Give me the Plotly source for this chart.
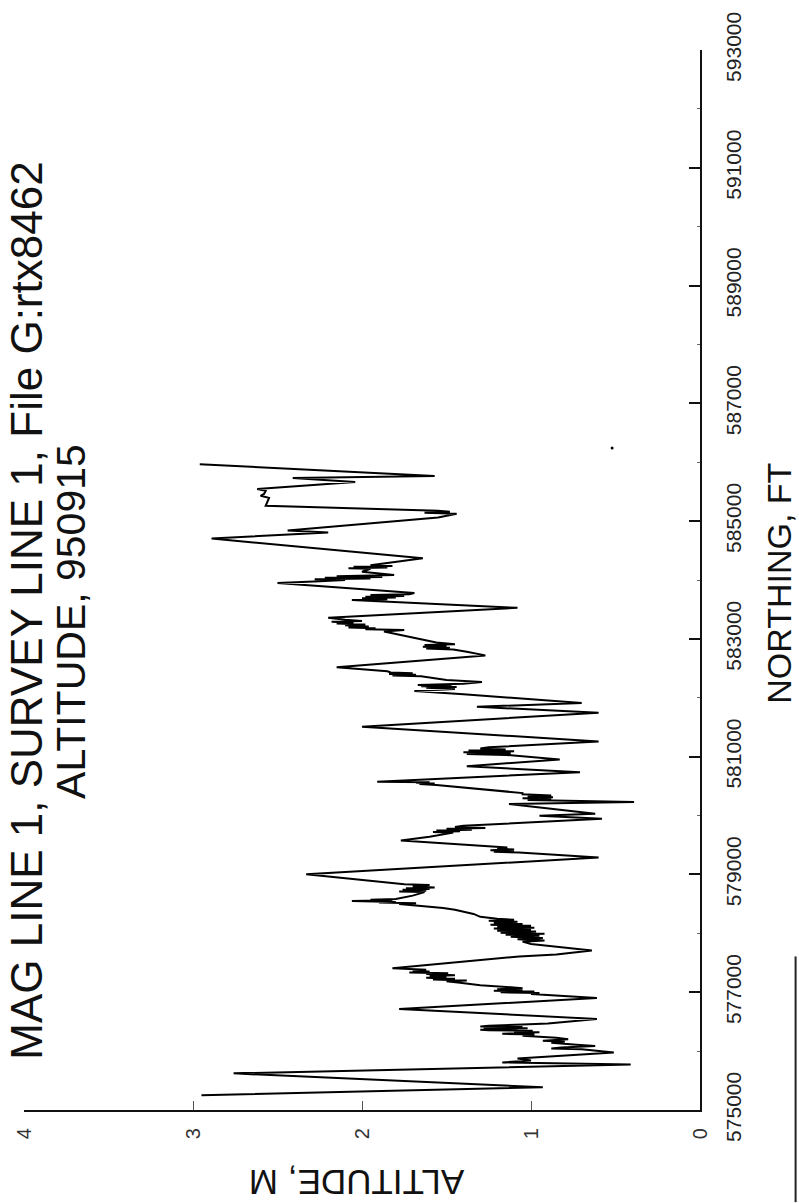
import plotly.graph_objects as go

# Survey profile: northing (ft) vs altitude (m), drawn on its side
northing_ft = [
    575252, 575387, 575622, 575774, 575807, 575840, 575875, 575976, 576030, 576045,
    576060, 576085, 576110, 576140, 576160, 576177, 576200, 576228, 576260, 576280,
    576295, 576320, 576335, 576346, 576355, 576362, 576370, 576380, 576390, 576400,
    576410, 576420, 576430, 576450, 576470, 576547, 576716, 576901, 576950, 576970,
    576985, 577000, 577012, 577025, 577035, 577050, 577069, 577120, 577160, 577187,
    577200, 577215, 577230, 577245, 577260, 577275, 577290, 577310, 577321, 577335,
    577350, 577365, 577380, 577405, 577607, 577641, 577708, 577780, 577820, 577859,
    577880, 577900, 577920, 577940, 577960, 577977, 577995, 578010, 578030, 578045,
    578061, 578080, 578095, 578110, 578129, 578145, 578160, 578175, 578196, 578215,
    578230, 578246, 578280, 578330, 578400, 578431, 578470, 578499, 578510, 578522,
    578532, 578549, 578560, 578572, 578583, 578640, 578700, 578712, 578725, 578740,
    578751, 578765, 578780, 578801, 578820, 578835, 579003, 579289, 579373, 579385,
    579398, 579410, 579424, 579440, 579457, 579575, 579640, 579710, 579722, 579735,
    579748, 579760, 579775, 579790, 579805, 579827, 579945, 579995, 580029, 580197,
    580231, 580250, 580265, 580281, 580295, 580310, 580325, 580340, 580360, 580382,
    580450, 580520, 580534, 580545, 580556, 580567, 580575, 580736, 580837, 580954,
    581030, 581045, 581060, 581075, 581090, 581106, 581120, 581139, 581160, 581257,
    581509, 581745, 581846, 581913, 582060, 582115, 582150, 582170, 582182, 582195,
    582205, 582216, 582240, 582266, 582300, 582367, 582380, 582392, 582405, 582418,
    582430, 582451, 582519, 582720, 582780, 582821, 582835, 582850, 582865, 582880,
    582895, 582910, 582939, 583050, 583124, 583150, 583165, 583180, 583195, 583210,
    583230, 583245, 583260, 583275, 583290, 583305, 583326, 583360, 583527, 583662,
    583675, 583690, 583703, 583716, 583730, 583746, 583760, 583780, 583948, 583980,
    584000, 584012, 584025, 584038, 584050, 584065, 584083, 584140, 584190, 584201,
    584213, 584225, 584238, 584251, 584369, 584705, 584806, 584840, 585060, 585126,
    585143, 585160, 585177, 585260, 585395, 585430, 585462, 585513, 585546, 585664,
    585731, 585765, 585967,
]
altitude_m = [
    2.95, 0.93, 2.76, 0.41, 1.17, 1.00, 1.08, 0.51, 0.70, 0.88,
    0.82, 0.62, 0.73, 0.88, 0.80, 0.93, 0.78, 0.85, 1.05, 0.98,
    1.17, 0.95, 1.10, 0.99, 1.25, 1.30, 1.08, 1.28, 1.02, 1.22,
    1.05, 1.30, 1.25, 1.05, 0.90, 0.61, 1.78, 0.61, 0.85, 1.00,
    0.95, 1.18, 0.98, 1.22, 1.05, 1.20, 1.05, 1.30, 1.42, 1.50,
    1.38, 1.58, 1.45, 1.62, 1.50, 1.60, 1.45, 1.62, 1.49, 1.72,
    1.60, 1.70, 1.62, 1.82, 1.07, 0.85, 0.64, 0.90, 1.00, 1.05,
    0.92, 1.08, 0.93, 1.12, 0.95, 1.15, 0.92, 1.18, 0.97, 1.20,
    1.00, 1.22, 0.98, 1.20, 1.00, 1.24, 1.05, 1.22, 1.08, 1.25,
    1.10, 1.20, 1.30, 1.34, 1.45, 1.52, 1.65, 1.78, 1.68, 1.90,
    1.80, 2.06, 1.82, 1.95, 1.80, 1.70, 1.63, 1.78, 1.62, 1.76,
    1.60, 1.74, 1.57, 1.70, 1.60, 1.75, 2.33, 0.60, 1.07, 1.22,
    1.10, 1.24, 1.10, 1.20, 1.14, 1.77, 1.60, 1.46, 1.58, 1.42,
    1.56, 1.35, 1.50, 1.27, 1.45, 1.40, 0.58, 0.95, 0.62, 1.13,
    0.39, 0.80, 1.02, 0.88, 1.05, 0.87, 1.02, 0.88, 1.05, 1.05,
    1.30, 1.56, 1.66, 1.57, 1.68, 1.60, 1.91, 0.71, 1.38, 0.83,
    1.15, 1.38, 1.12, 1.40, 1.10, 1.37, 1.15, 1.30, 1.25, 0.60,
    2.00, 0.60, 1.32, 0.70, 1.40, 1.69, 1.45, 1.62, 1.44, 1.65,
    1.47, 1.67, 1.40, 1.29, 1.50, 1.65, 1.82, 1.68, 1.84, 1.70,
    1.83, 1.85, 2.15, 1.27, 1.38, 1.46, 1.62, 1.48, 1.64, 1.50,
    1.63, 1.45, 1.56, 1.75, 1.87, 1.75, 1.98, 1.92, 2.08, 1.96,
    2.10, 1.98, 2.15, 2.05, 2.18, 2.00, 2.10, 2.20, 1.08, 2.06,
    1.85, 2.00, 1.80, 1.98, 1.75, 1.95, 1.72, 1.69, 2.50, 2.25,
    2.10, 2.28, 1.95, 2.22, 1.88, 2.15, 1.81, 2.00, 1.95, 2.08,
    1.85, 2.05, 1.82, 1.95, 1.64, 2.89, 2.20, 2.44, 1.55, 1.44,
    1.63, 1.48, 1.55, 2.57, 2.55, 2.60, 2.58, 2.57, 2.62, 2.04,
    2.41, 1.57, 2.96,
]

# a lone recorded point off the main trace
lone_northing_ft = [586240]
lone_altitude_m = [0.52]

altitude_ticks = [0, 1, 2, 3, 4]
northing_ticks = [575000, 577000, 579000, 581000, 583000, 585000, 587000, 589000, 591000, 593000]
northing_minor = [576000, 578000, 580000, 582000, 584000, 586000, 588000, 590000, 592000]

title_line1 = "MAG LINE 1, SURVEY LINE 1, File G:rtx8462"
title_line2 = "ALTITUDE, 950915"
x_label = "NORTHING, FT"
y_label = "ALTITUDE, M"

W, H = 799, 1203
L, R, T, B = 14, 99, 40, 93
FONT = "Liberation Sans, Arial, sans-serif"


def px(xp):
    return (xp - L) / (W - L - R)


def py(yp):
    return (H - B - yp) / (H - T - B)


fig = go.Figure()
fig.add_trace(go.Scatter(
    x=altitude_m, y=northing_ft, mode="lines",
    line=dict(color="black", width=2),
    hoverinfo="skip",
))
fig.add_trace(go.Scatter(
    x=lone_altitude_m, y=lone_northing_ft, mode="markers",
    marker=dict(color="black", size=3),
    hoverinfo="skip",
))

fig.update_layout(
    width=W, height=H,
    margin=dict(l=L, r=R, t=T, b=B),
    paper_bgcolor="white", plot_bgcolor="white",
    showlegend=False,
    font=dict(family=FONT, color="#1a1a1a"),
)

fig.update_xaxes(
    range=[4, 0], tickmode="array", tickvals=altitude_ticks,
    ticktext=[str(v) for v in altitude_ticks],
    tickangle=-90, ticks="inside", ticklen=9, tickwidth=1, tickcolor="#555",
    showline=True, linecolor="#111", linewidth=2,
    showgrid=False, zeroline=False,
    tickfont=dict(size=20, family=FONT, color="#333"),
    ticklabelstandoff=8,
)
fig.update_yaxes(
    side="right",
    range=[575000, 593000], tickmode="array", tickvals=northing_ticks,
    ticktext=[str(v) for v in northing_ticks],
    tickangle=-90, ticks="inside", ticklen=11, tickwidth=1.5, tickcolor="#111",
    showline=True, linecolor="#111", linewidth=2,
    showgrid=False, zeroline=False,
    tickfont=dict(size=21, family=FONT, color="#222"),
    ticklabelstandoff=14,
    minor=dict(tickmode="array", tickvals=northing_minor, ticks="inside",
               ticklen=3, tickwidth=1, tickcolor="#666"),
)

fig.add_annotation(text=title_line1, xref="paper", yref="paper",
                   x=px(17), y=py(606), xanchor="center", yanchor="middle",
                   textangle=-90, showarrow=False,
                   font=dict(size=44, family=FONT, color="#111"))
fig.add_annotation(text=title_line2, xref="paper", yref="paper",
                   x=px(61), y=py(617), xanchor="center", yanchor="middle",
                   textangle=-90, showarrow=False,
                   font=dict(size=41, family=FONT, color="#111"))
fig.add_annotation(text=x_label, xref="paper", yref="paper",
                   x=px(780), y=py(578), xanchor="center", yanchor="middle",
                   textangle=-90, showarrow=False,
                   font=dict(size=34, family=FONT, color="#111"))
fig.add_annotation(text=y_label, xref="paper", yref="paper",
                   x=px(352), y=py(1183), xanchor="center", yanchor="middle",
                   textangle=180, showarrow=False,
                   font=dict(size=35, family=FONT, color="#111"))

# page edge on the right-hand side
fig.add_shape(type="line", xref="paper", yref="paper",
              x0=px(797), x1=px(797), y0=py(955), y1=py(1203),
              line=dict(color="#222", width=2))

fig.write_html("out.html")
